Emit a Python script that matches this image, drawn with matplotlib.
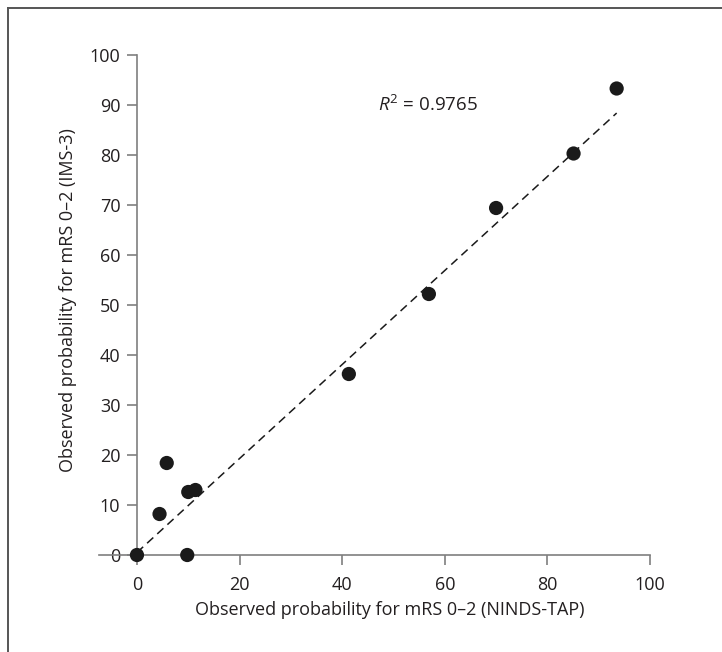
import numpy as np
import matplotlib.pyplot as plt
from matplotlib.lines import Line2D

plt.rcParams["font.family"] = ["Open Sans", "DejaVu Sans"]
plt.rcParams["mathtext.fontset"] = "custom"
plt.rcParams["mathtext.rm"] = "Open Sans"
plt.rcParams["mathtext.it"] = "Open Sans:italic"

# observed probability for mRS 0-2 (%)
ninds_tap = [0.0, 9.8, 4.4, 5.8, 10.0, 11.4, 41.3, 56.9, 70.0, 85.1, 93.5]
ims3 = [0.0, 0.0, 8.2, 18.4, 12.6, 13.0, 36.2, 52.2, 69.4, 80.3, 93.3]

# linear trend
trend_slope = 0.94
trend_intercept = 0.5
r2_label = r"$R^{2}$ = 0.9765"

xticks = [0, 20, 40, 60, 80, 100]
yticks = [0, 10, 20, 30, 40, 50, 60, 70, 80, 90, 100]

axis_color = "#7f7f7f"
text_color = "#231f20"
dot_color = "#1a1a1a"

fig = plt.figure(figsize=(7.22, 6.52), dpi=100)
ax = fig.add_axes([99 / 722, 1 - 555 / 652, 551 / 722, 500 / 652])

# frame around the figure (only top and left edges show)
fig.add_artist(Line2D([8 / 722, 8 / 722], [0, 1 - 8 / 652], transform=fig.transFigure,
                      color="#555555", lw=1.4))
fig.add_artist(Line2D([8 / 722, 1], [1 - 8 / 652, 1 - 8 / 652], transform=fig.transFigure,
                      color="#555555", lw=1.4))

tx = np.array([min(ninds_tap), max(ninds_tap)])
ax.plot(tx, trend_slope * tx + trend_intercept, color=dot_color, lw=1.1,
        dashes=(5.5, 3.5), zorder=2)
ax.scatter(ninds_tap, ims3, s=105, color=dot_color, zorder=3, clip_on=False,
           edgecolors="none")

ax.text(47, 90, r2_label, fontsize=13.5, color=text_color, va="center", ha="left")

ax.set_xlim(-7.4, 100)
ax.set_ylim(0, 100)
ax.spines["left"].set_position(("data", 0))
ax.spines["right"].set_visible(False)
ax.spines["top"].set_visible(False)
for s in ["left", "bottom"]:
    ax.spines[s].set_color(axis_color)
    ax.spines[s].set_linewidth(1.2)

ax.set_xticks(xticks)
ax.set_yticks(yticks)
ax.tick_params(axis="both", colors=axis_color, labelcolor=text_color, labelsize=13,
               width=1.2, length=7, direction="out")
ax.tick_params(axis="x", pad=8)
ax.tick_params(axis="y", pad=5)

fig.text(390 / 722, 1 - 610 / 652, "Observed probability for mRS 0\u20132 (NINDS-TAP)",
         fontsize=13, color=text_color, ha="center", va="center")
fig.text(68 / 722, 1 - 300 / 652, "Observed probability for mRS 0\u20132 (IMS-3)",
         fontsize=13, color=text_color, ha="center", va="center", rotation=90)

fig.savefig("out.png", dpi=100)
